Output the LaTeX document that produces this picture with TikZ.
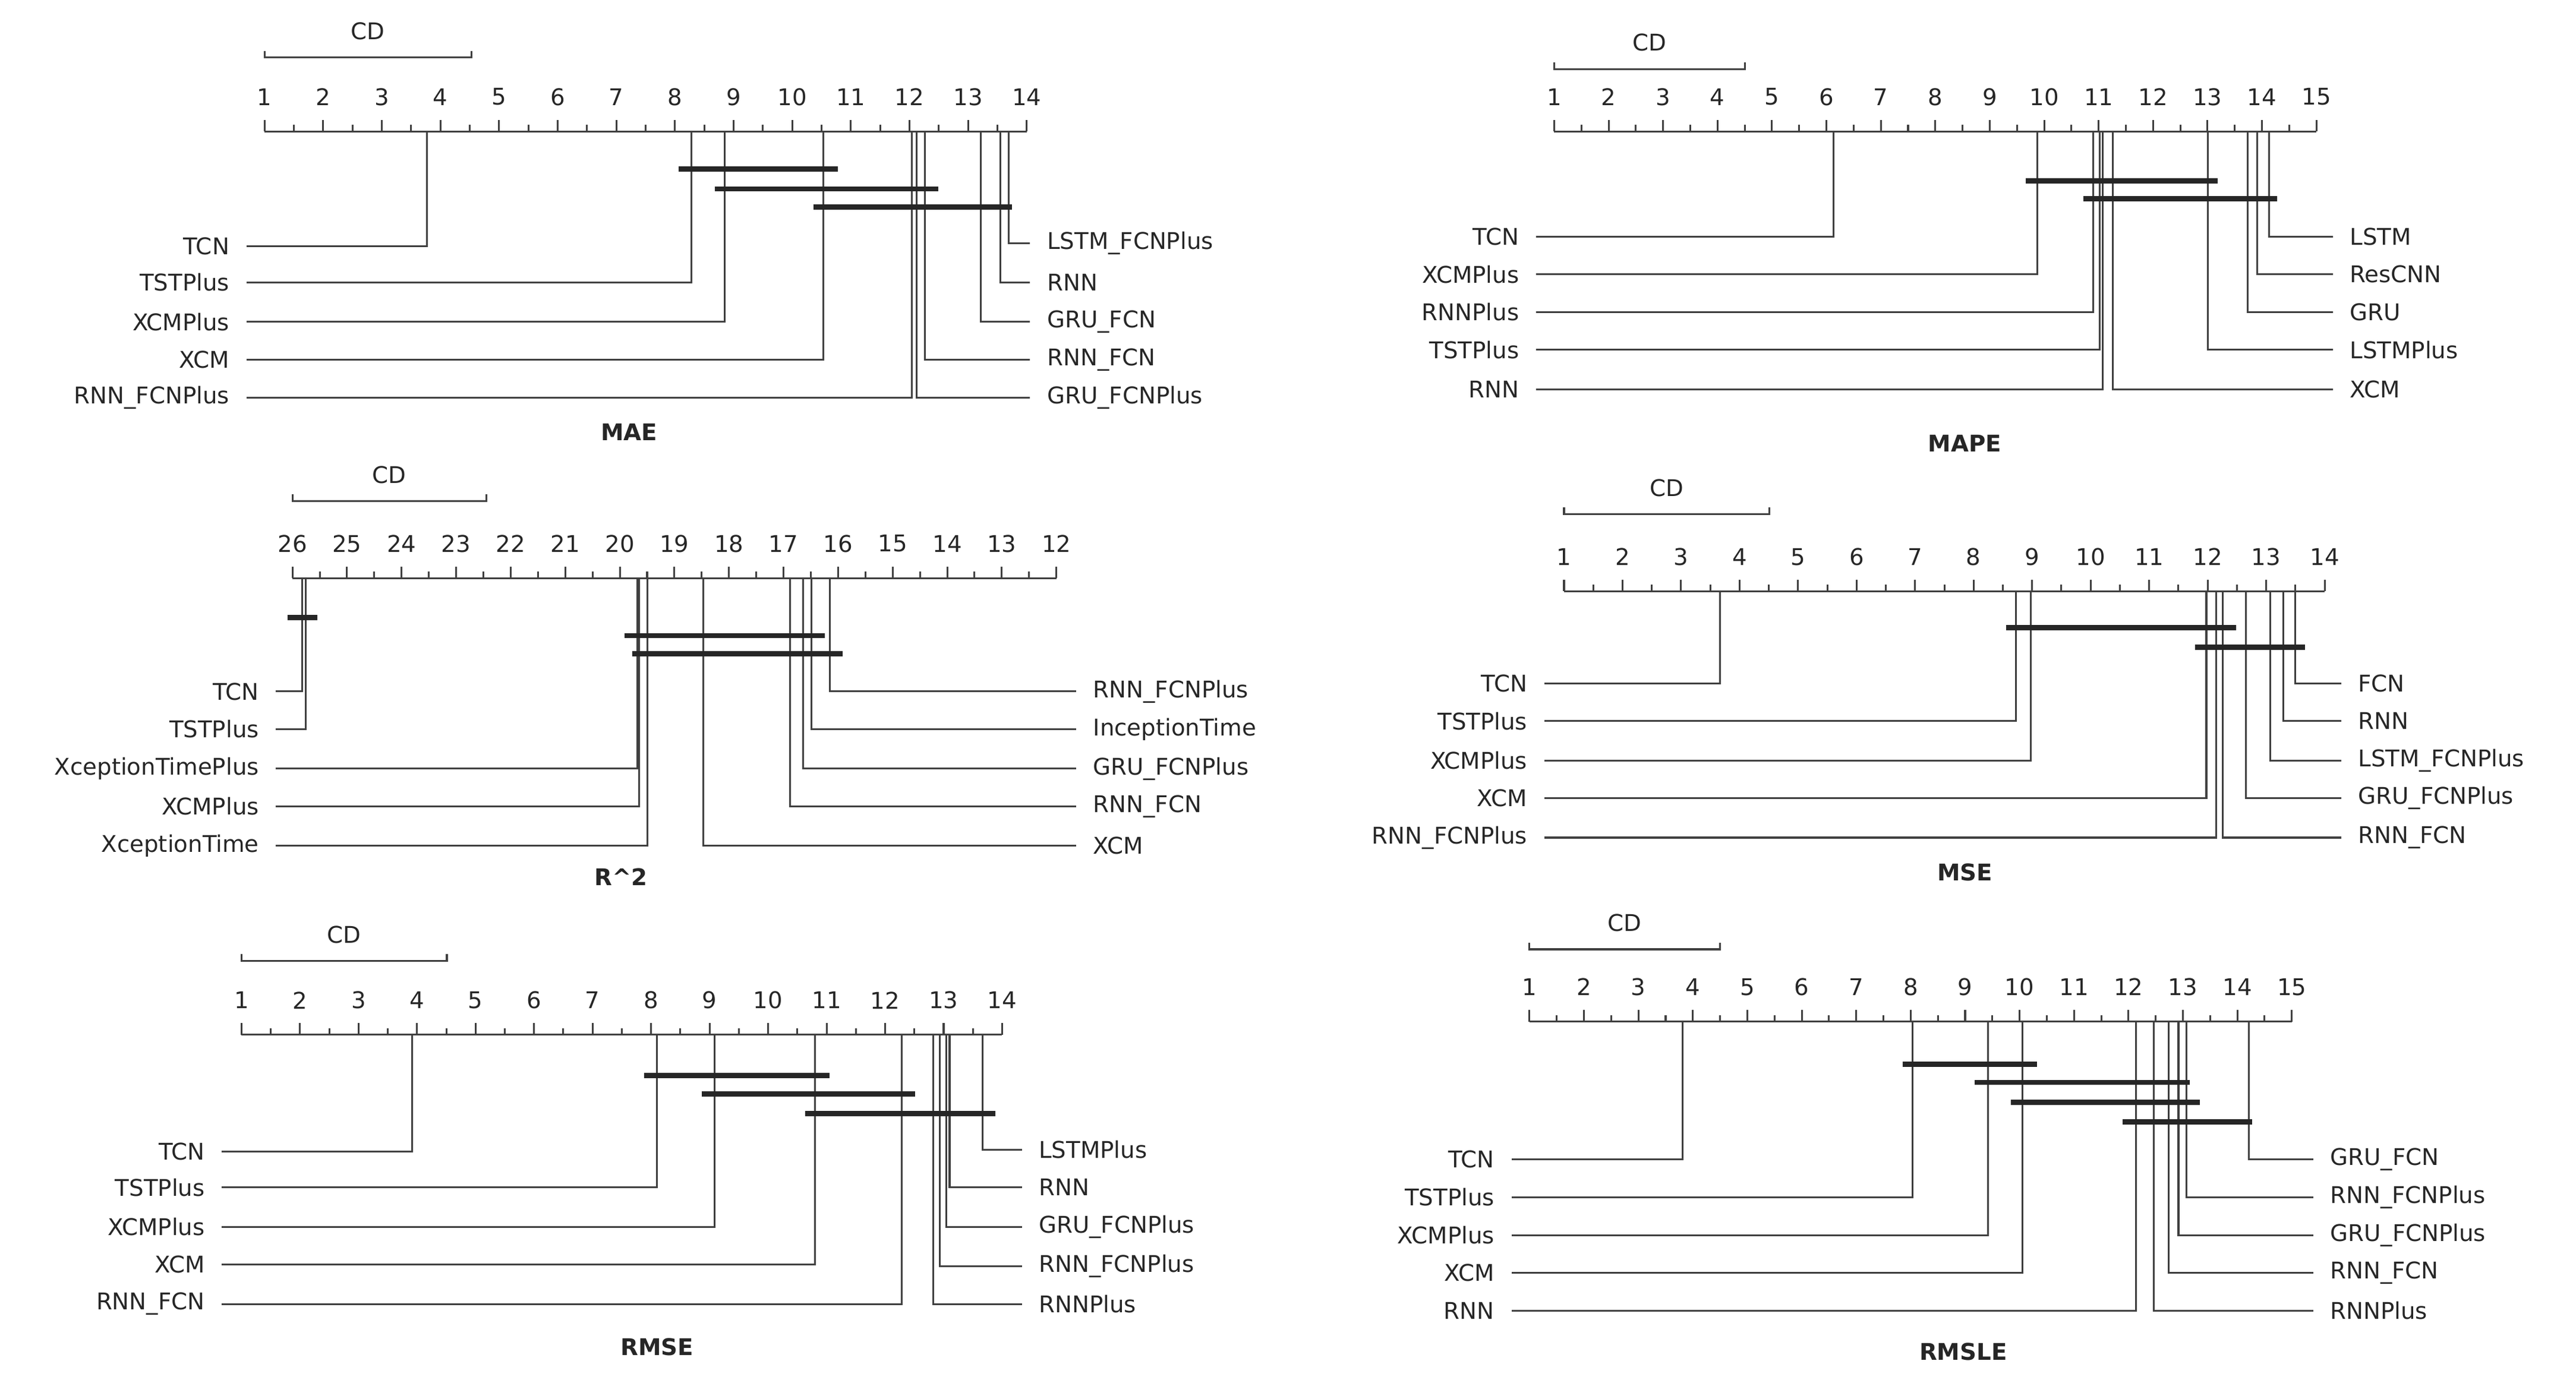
\documentclass[tikz,border=0pt]{standalone}
\usepackage{fontspec}
\setmainfont{DejaVu Sans}
\begin{document}
\begin{tikzpicture}[x=0.5pt,y=-0.5pt,
  ln/.style={draw=black!75,line width=0.55pt},
  bar/.style={draw=black!85,line width=1.6pt},
  lab/.style={font=\fontsize{7}{8}\selectfont,text=black!85,inner sep=0pt},
  ttl/.style={font=\fontsize{7}{8}\selectfont\bfseries,text=black!85,inner sep=0pt}]
\useasboundingbox (0,0) rectangle (1568,840);
% axis macro: #1 x-start, #2 x-end, #3 y, #4 first label, #5 step, #6 n intervals
\newcommand\cdaxis[6]{%
  \draw[ln] (#1,#3) -- (#2,#3);
  \pgfmathsetmacro\dx{(#2-#1)/#6}
  \foreach \i in {0,...,#6}{%
    \pgfmathsetmacro\xx{#1+\i*\dx}
    \pgfmathtruncatemacro\vv{#4+\i*#5}
    \draw[ln] (\xx,#3) -- (\xx,#3-7);
    \node[lab] at (\xx,#3-21) {\vv};}
  \pgfmathtruncatemacro\nm{#6-1}
  \foreach \i in {0,...,\nm}{%
    \pgfmathsetmacro\xx{#1+(\i+0.5)*\dx}
    \draw[ln] (\xx,#3) -- (\xx,#3-4);}}
% CD bracket: #1 x1 #2 x2 #3 y
\newcommand\cdbr[3]{%
  \draw[ln] (#1,#3-4) -- (#1,#3) -- (#2,#3) -- (#2,#3-4);
  \node[lab] at ({(#1+#2)/2},#3-16) {CD};}
% left entry: #1 name #2 text #3 x #4 y #5 axis y #6 line start
\newcommand\cdl[6]{%
  \node[lab,anchor=east] (#1) at (#6-10,#4) {#2};
  \draw[ln] (#3,#5) |- (#6,#4);}
\newcommand\cdr[6]{%
  \node[lab,anchor=west] (#1) at (#6+10,#4) {#2};
  \draw[ln] (#3,#5) |- (#6,#4);}

% ---------- MAE ----------
\cdaxis{161}{625}{80}{1}{1}{13}
\cdbr{161}{287}{35}
\cdl{a1}{TCN}{260}{150}{80}{150}
\cdl{a2}{TSTPlus}{421}{172}{80}{150}
\cdl{a3}{XCMPlus}{441}{196}{80}{150}
\cdl{a4}{XCM}{501}{219}{80}{150}
\cdl{a5}{RNN\_FCNPlus}{555}{242}{80}{150}
\cdr{a6}{LSTM\_FCNPlus}{614}{148}{80}{627}
\cdr{a7}{RNN}{609}{172}{80}{627}
\cdr{a8}{GRU\_FCN}{597}{196}{80}{627}
\cdr{a9}{RNN\_FCN}{563}{219}{80}{627}
\cdr{a10}{GRU\_FCNPlus}{558}{242}{80}{627}
\draw[bar] (413,103) -- (510,103);
\draw[bar] (435,115) -- (571,115);
\draw[bar] (495,126) -- (616,126);
\node[ttl] (t1) at (383,263) {MAE};

% ---------- MAPE ----------
\cdaxis{946}{1410}{80}{1}{1}{14}
\cdbr{946}{1062}{42}
\cdl{b1}{TCN}{1116}{144}{80}{935}
\cdl{b2}{XCMPlus}{1240}{167}{80}{935}
\cdl{b3}{RNNPlus}{1274}{190}{80}{935}
\cdl{b4}{TSTPlus}{1278}{213}{80}{935}
\cdl{b5}{RNN}{1280}{237}{80}{935}
\cdr{b6}{LSTM}{1381}{144}{80}{1420}
\cdr{b7}{ResCNN}{1374}{167}{80}{1420}
\cdr{b8}{GRU}{1368}{190}{80}{1420}
\cdr{b9}{LSTMPlus}{1344}{213}{80}{1420}
\cdr{b10}{XCM}{1286}{237}{80}{1420}
\draw[bar] (1233,110) -- (1350,110);
\draw[bar] (1268,121) -- (1386,121);
\node[ttl] (t2) at (1196,270) {MAPE};

% ---------- R^2 ----------
\cdaxis{178}{643}{352}{26}{-1}{14}
\cdbr{178}{296}{305}
\cdl{c1}{TCN}{184}{421}{352}{168}
\cdl{c2}{TSTPlus}{186}{444}{352}{168}
\cdl{c3}{XceptionTimePlus}{388}{468}{352}{168}
\cdl{c4}{XCMPlus}{389}{491}{352}{168}
\cdl{c5}{XceptionTime}{394}{515}{352}{168}
\cdr{c6}{RNN\_FCNPlus}{505}{421}{352}{655}
\cdr{c7}{InceptionTime}{494}{444}{352}{655}
\cdr{c8}{GRU\_FCNPlus}{489}{468}{352}{655}
\cdr{c9}{RNN\_FCN}{481}{491}{352}{655}
\cdr{c10}{XCM}{428}{515}{352}{655}
\draw[bar] (175,376) -- (193,376);
\draw[bar] (380,387) -- (502,387);
\draw[bar] (385,398) -- (513,398);
\node[ttl] (t3) at (378,534) {R\^{}2};

% ---------- MSE ----------
\cdaxis{952}{1415}{360}{1}{1}{13}
\cdbr{952}{1077}{313}
\cdl{d1}{TCN}{1047}{416}{360}{940}
\cdl{d2}{TSTPlus}{1227}{439}{360}{940}
\cdl{d3}{XCMPlus}{1236}{463}{360}{940}
\cdl{d4}{XCM}{1343}{486}{360}{940}
\cdl{d5}{RNN\_FCNPlus}{1349}{510}{360}{940}
\cdr{d6}{FCN}{1397}{416}{360}{1425}
\cdr{d7}{RNN}{1390}{439}{360}{1425}
\cdr{d8}{LSTM\_FCNPlus}{1382}{463}{360}{1425}
\cdr{d9}{GRU\_FCNPlus}{1367}{486}{360}{1425}
\cdr{d10}{RNN\_FCN}{1353}{510}{360}{1425}
\draw[bar] (1221,382) -- (1361,382);
\draw[bar] (1336,394) -- (1403,394);
\node[ttl] (t4) at (1196,531) {MSE};

% ---------- RMSE ----------
\cdaxis{147}{610}{630}{1}{1}{13}
\cdbr{147}{272}{585}
\cdl{e1}{TCN}{251}{701}{630}{135}
\cdl{e2}{TSTPlus}{400}{723}{630}{135}
\cdl{e3}{XCMPlus}{435}{747}{630}{135}
\cdl{e4}{XCM}{496}{770}{630}{135}
\cdl{e5}{RNN\_FCN}{549}{794}{630}{135}
\cdr{e6}{LSTMPlus}{598}{700}{630}{622}
\cdr{e7}{RNN}{578}{723}{630}{622}
\cdr{e8}{GRU\_FCNPlus}{576}{747}{630}{622}
\cdr{e9}{RNN\_FCNPlus}{572}{771}{630}{622}
\cdr{e10}{RNNPlus}{568}{794}{630}{622}
\draw[bar] (392,655) -- (505,655);
\draw[bar] (427,666) -- (557,666);
\draw[bar] (490,678) -- (606,678);
\node[ttl] (t5) at (400,820) {RMSE};

% ---------- RMSLE ----------
\cdaxis{931}{1395}{622}{1}{1}{14}
\cdbr{931}{1047}{578}
\cdl{f1}{TCN}{1024}{706}{622}{920}
\cdl{f2}{TSTPlus}{1164}{729}{622}{920}
\cdl{f3}{XCMPlus}{1210}{752}{622}{920}
\cdl{f4}{XCM}{1231}{775}{622}{920}
\cdl{f5}{RNN}{1300}{798}{622}{920}
\cdr{f6}{GRU\_FCN}{1369}{706}{622}{1408}
\cdr{f7}{RNN\_FCNPlus}{1331}{729}{622}{1408}
\cdr{f8}{GRU\_FCNPlus}{1326}{752}{622}{1408}
\cdr{f9}{RNN\_FCN}{1320}{775}{622}{1408}
\cdr{f10}{RNNPlus}{1311}{798}{622}{1408}
\draw[bar] (1158,648) -- (1240,648);
\draw[bar] (1202,659) -- (1333,659);
\draw[bar] (1224,671) -- (1339,671);
\draw[bar] (1292,683) -- (1371,683);
\node[ttl] (t6) at (1195,823) {RMSLE};
\end{tikzpicture}
\end{document}
